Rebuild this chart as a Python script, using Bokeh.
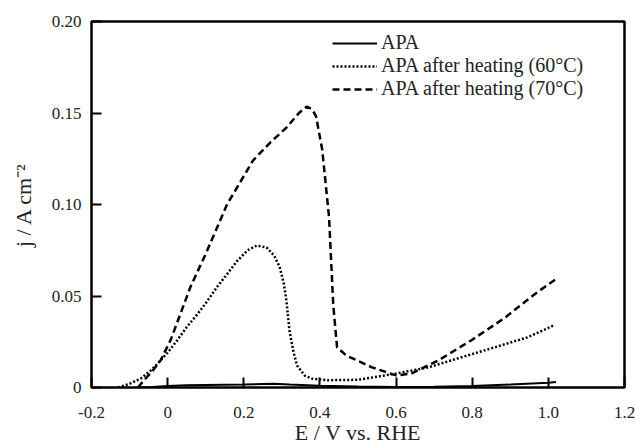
from bokeh.plotting import figure
from bokeh.models import Range1d, FixedTicker, Legend, LegendItem
from bokeh.embed import file_html
from bokeh.resources import INLINE

# ---- data ----
apa_x = [-0.08, -0.04, 0.0, 0.05, 0.1, 0.15, 0.2, 0.25, 0.28, 0.32, 0.4, 0.5, 0.6, 0.7, 0.8, 0.9, 1.0, 1.02]
apa_y = [0.0, 0.0003, 0.0008, 0.0012, 0.0014, 0.0015, 0.0016, 0.0019, 0.002, 0.0016, 0.0009, 0.0005,
         0.0003, 0.0004, 0.0008, 0.0016, 0.0026, 0.003]

h60_x = [-0.13, -0.1, -0.07, -0.04, -0.018, 0.0, 0.026, 0.05, 0.078, 0.1, 0.13, 0.16, 0.182, 0.21,
         0.234, 0.26, 0.28, 0.294, 0.305, 0.312, 0.32, 0.33, 0.34, 0.36, 0.38, 0.42, 0.5, 0.6, 0.685,
         0.77, 0.86, 0.945, 1.015]
h60_y = [0.0, 0.002, 0.005, 0.010, 0.015, 0.019, 0.026, 0.033, 0.040, 0.046, 0.055, 0.063, 0.069, 0.075,
         0.0776, 0.0765, 0.072, 0.066, 0.057, 0.0475, 0.031, 0.020, 0.012, 0.0065, 0.0048, 0.0040, 0.0042,
         0.0076, 0.011, 0.0164, 0.022, 0.0274, 0.034]

h70_x = [-0.078, -0.062, -0.04, -0.018, 0.008, 0.06, 0.1, 0.156, 0.224, 0.27, 0.312, 0.345, 0.365, 0.38,
         0.39, 0.406, 0.424, 0.435, 0.445, 0.469, 0.537, 0.6, 0.64, 0.711, 0.797, 0.885, 0.964, 1.018]
h70_y = [0.0, 0.004, 0.009, 0.015, 0.026, 0.055, 0.073, 0.100, 0.124, 0.134, 0.142, 0.150, 0.1535, 0.152,
         0.148, 0.130, 0.093, 0.045, 0.022, 0.0175, 0.011, 0.0066, 0.0076, 0.0148, 0.0257, 0.038, 0.051, 0.059]

series_names = ["APA", "APA after heating (60\u00b0C)", "APA after heating (70\u00b0C)"]

x_ticks = [-0.2, 0.0, 0.2, 0.4, 0.6, 0.8, 1.0, 1.2]
x_tick_labels = ["-0.2", "0", "0.2", "0.4", "0.6", "0.8", "1.0", "1.2"]
y_ticks = [0.0, 0.05, 0.10, 0.15, 0.20]
y_tick_labels = ["0", "0.05", "0.10", "0.15", "0.20"]

x_title = "E / V vs. RHE"
y_title = "j / A cm\u207b\u00b2"

FONT = "Liberation Serif"

p = figure(frame_width=533, frame_height=366, output_backend="svg", toolbar_location=None,
           x_range=Range1d(-0.2, 1.2), y_range=Range1d(0, 0.2),
           min_border_left=91, min_border_top=21, min_border_right=11, min_border_bottom=60)
p.background_fill_color = "white"
p.border_fill_color = "white"
p.grid.visible = False
p.outline_line_color = "black"
p.outline_line_width = 2.5
p.outline_line_alpha = 1.0

for ax in (p.xaxis[0], p.yaxis[0]):
    ax.axis_line_color = None
    ax.major_tick_in = 10
    ax.major_tick_out = 0
    ax.major_tick_line_width = 2
    ax.major_tick_line_color = "black"
    ax.minor_tick_line_color = None
    ax.major_label_text_font = FONT
    ax.major_label_text_font_size = "17px"
    ax.major_label_text_color = "#222222"
    ax.axis_label_text_font = FONT
    ax.axis_label_text_font_size = "22px"
    ax.axis_label_text_font_style = "normal"
    ax.axis_label_text_color = "#222222"

p.xaxis[0].ticker = FixedTicker(ticks=x_ticks)
p.xaxis[0].major_label_overrides = {t: l for t, l in zip(x_ticks, x_tick_labels)}
p.xaxis[0].major_label_standoff = 19
p.xaxis[0].axis_label = x_title
p.xaxis[0].axis_label_standoff = -1

p.yaxis[0].ticker = FixedTicker(ticks=y_ticks)
p.yaxis[0].major_label_overrides = {t: l for t, l in zip(y_ticks, y_tick_labels)}
p.yaxis[0].major_label_standoff = 10
p.yaxis[0].axis_label = y_title
p.yaxis[0].axis_label_standoff = 13

r1 = p.line(apa_x, apa_y, line_color="black", line_width=2)
r2 = p.line(h60_x, h60_y, line_color="black", line_width=2.5, line_dash="2 2")
r3 = p.line(h70_x, h70_y, line_color="black", line_width=2.5, line_dash="7 4")

legend = Legend(items=[LegendItem(label=series_names[0], renderers=[r1]),
                       LegendItem(label=series_names[1], renderers=[r2]),
                       LegendItem(label=series_names[2], renderers=[r3])],
                location=(241, 287), glyph_width=45, glyph_height=20, label_height=20,
                label_standoff=4, spacing=0, padding=0, margin=0,
                border_line_color=None, background_fill_alpha=0,
                label_text_font=FONT, label_text_font_size="20px", label_text_color="#222222")
p.add_layout(legend)

open("out.html", "w").write(file_html(p, INLINE))
